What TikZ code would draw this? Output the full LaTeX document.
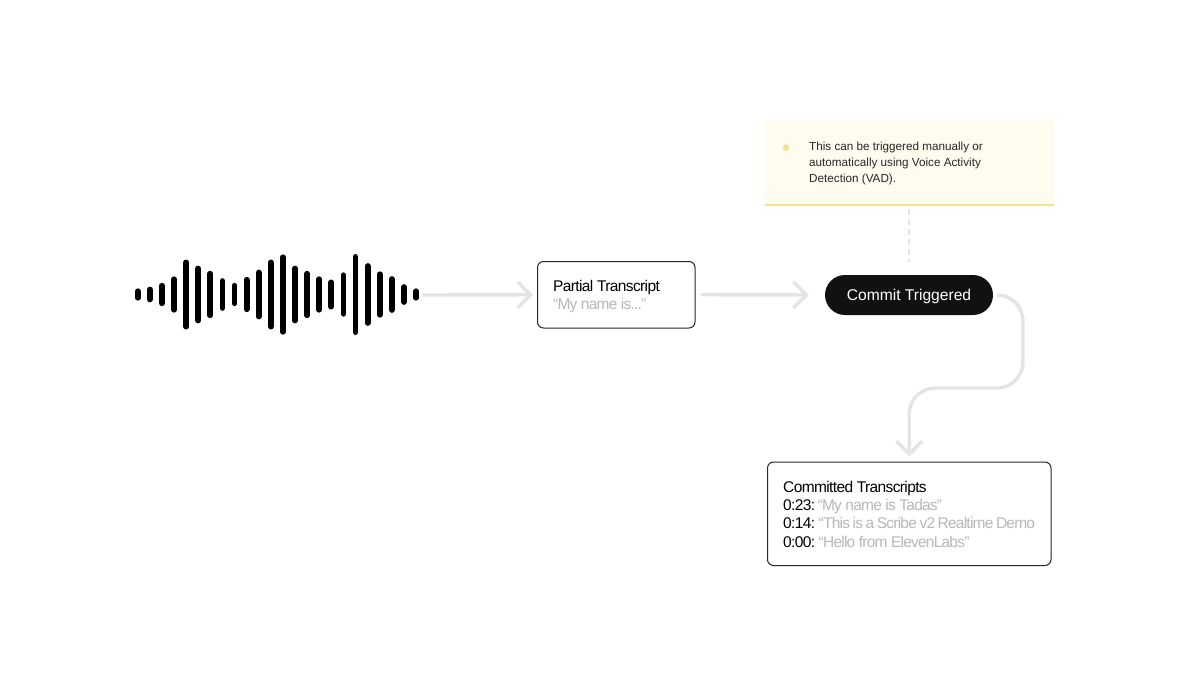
\documentclass[tikz,border=0pt]{standalone}
\usepackage{fontspec}
\setmainfont{Liberation Sans}
\newfontfamily\tightfont[LetterSpace=-4]{Liberation Sans}
\newfontfamily\saidfont[LetterSpace=-5]{Liberation Sans}
\usetikzlibrary{arrows.meta,positioning}
\definecolor{linegrey}{HTML}{E4E4E4}
\definecolor{quotegrey}{HTML}{B8B8B8}
\definecolor{pillblack}{HTML}{111111}
\definecolor{notefill}{HTML}{FFFCEF}
\definecolor{noteline}{HTML}{F5E08E}
\tikzset{
  flow/.style={draw=linegrey,line width=3.4pt,-{Straight Barb[length=13pt,width=26pt,line width=3.4pt]}},
  transcript/.style={draw=black!85,line width=1pt,rounded corners=6pt,fill=white,inner sep=0pt},
  transcripttext/.style={font=\tightfont\fontsize{15.5}{18.3}\selectfont,align=left,anchor=north west,inner sep=0pt}
}
\newcommand{\said}[1]{\textcolor{quotegrey}{\saidfont #1}}
\begin{document}
\begin{tikzpicture}[x=1pt,y=-1pt]
   \useasboundingbox (0,0) rectangle (1200,675);
   \fill[white] (0,0) rectangle (1200,675);
   % waveform
   \foreach \i/\h in {0/12.3,1/15.7,2/23.3,3/36.3,4/70,5/57.7,6/47.3,7/32.7,8/23.3,9/35.3,10/49.7,11/70,
                      12/80.3,13/57.7,14/47.3,15/36.3,16/30,17/44.3,18/81,19/62.7,20/46.3,21/36.7,22/20.7,23/12.3}
     \draw[line width=5.8pt,line cap=round] (137.7+12.1*\i,294.5-\h/2+2.9) -- (137.7+12.1*\i,294.5+\h/2-2.9);
   \coordinate (wave) at (423,295);
   % boxes
   \node[transcript,minimum width=157.5pt,minimum height=66.5pt] (partial) at (616.25,294.75) {};
   \node[transcripttext] (partialtext) at (553,280) {Partial Transcript\\\said{“My name is...”}};
   \node[draw=none,fill=pillblack,rounded corners=20pt,minimum width=168pt,minimum height=40pt,
         text=white,text depth=0pt,font=\fontsize{15.6}{18}\selectfont,inner sep=0pt] (commit) at (909,295) {Commit Triggered};
   \node[transcript,minimum width=283.5pt,minimum height=103.5pt] (committed) at (909.25,513.75) {};
   \node[transcripttext] (committedtext) at (783,480.8) {Committed Transcripts\\
     0:23:\hspace{2.5pt}\said{“My name is Tadas”}\\
     0:14:\hspace{3.5pt}\said{\spaceskip=2.6pt “This is a Scribe v2 Realtime Demo}\\
     0:00:\hspace{3.5pt}\said{“Hello from ElevenLabs”}};
   % note
   \node[fill=notefill,rounded corners=2pt,minimum width=289pt,minimum height=85pt,inner sep=0pt] (note) at (909.5,162.5) {};
   \draw[noteline,line width=1.5pt] (note.south west) -- (note.south east);
   \node[circle,fill=noteline,minimum size=6.5pt,inner sep=0pt] (dot) at (786,147.5) {};
   \node[align=left,anchor=north west,inner sep=0pt,text=black!85,font=\fontsize{11.7}{16.4}\selectfont] (notetext) at (809,141.5)
     {This can be triggered manually or\\automatically using Voice Activity\\Detection (VAD).};
   % connectors
   \draw[flow,shorten >=4pt] (wave) -- (partial.west);
   \draw[flow,shorten <=5pt,shorten >=16pt] (partial.east) -- (commit.west);
   \draw[draw=linegrey,line width=1.5pt,dash pattern=on 6pt off 4pt,shorten <=4pt,shorten >=13pt] (note.south -| commit) -- (commit.north);
   \coordinate (bendright) at (1023,388);
   \draw[flow,rounded corners=26pt,shorten <=5pt,shorten >=5pt] (commit.east) -| (bendright) -| (committed.north);
\end{tikzpicture}
\end{document}
